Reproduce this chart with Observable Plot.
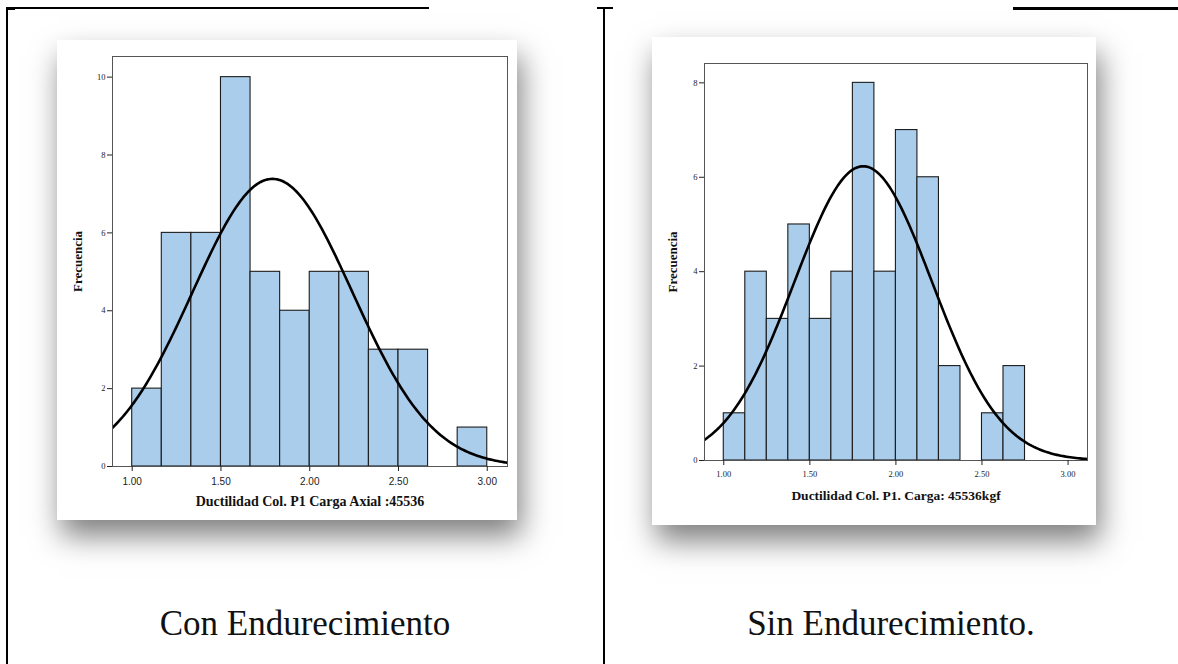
<!DOCTYPE html>
<html>
<head>
<meta charset="utf-8">
<script src="https://cdn.jsdelivr.net/npm/d3@7"></script>
<script src="https://cdn.jsdelivr.net/npm/@observablehq/plot@0.6"></script>
<style>
  html, body { margin: 0; padding: 0; background: #fff; }
  body { width: 1178px; height: 664px; position: relative; overflow: hidden; }
  .line { position: absolute; background: #000; }
  .card { position: absolute; background: #fff; box-shadow: 4px 16px 28px rgba(0,0,0,0.5); }
  .card svg { display: block; }
  .caption { position: absolute; font-family: "Liberation Serif", "DejaVu Serif", serif; font-size: 35px; color: #111; text-align: center; white-space: nowrap; transform: translateX(-50%); }
</style>
</head>
<body>
<div class="line" style="left:6px;top:7px;width:423px;height:1.5px"></div>
<div class="line" style="left:6px;top:7px;width:9px;height:3px"></div>
<div class="line" style="left:6px;top:7px;width:1.5px;height:657px"></div>
<div class="line" style="left:597px;top:7px;width:16px;height:2px"></div>
<div class="line" style="left:603px;top:7px;width:1.5px;height:657px"></div>
<div class="line" style="left:1013px;top:7px;width:165px;height:2.5px"></div>

<div class="card" id="left" style="left:57px;top:40px;width:460px;height:480px"></div>
<div class="card" id="right" style="left:652px;top:37px;width:444px;height:488px"></div>

<div class="caption" id="capL" style="left:305px;top:604px"></div>
<div class="caption" id="capR" style="left:891px;top:604px"></div>

<script>
// ---- Data: left histogram (Con Endurecimiento) ----
const leftBinStart = 1.0;
const leftBinWidth = 1 / 6;
const leftCounts = [2, 6, 6, 10, 5, 4, 5, 5, 3, 3, 0, 1];
const leftMean = 1.79;
const leftSd = 0.45;
const leftXTicks = [1.0, 1.5, 2.0, 2.5, 3.0];
const leftYTicks = [0, 2, 4, 6, 8, 10];
const leftXLabel = "Ductilidad Col. P1 Carga Axial :45536";

// ---- Data: right histogram (Sin Endurecimiento) ----
const rightBinStart = 1.0;
const rightBinWidth = 0.125;
const rightCounts = [1, 4, 3, 5, 3, 4, 8, 4, 7, 6, 2, 0, 1, 2];
const rightMean = 1.81;
const rightSd = 0.40;
const rightXTicks = [1.0, 1.5, 2.0, 2.5, 3.0];
const rightYTicks = [0, 2, 4, 6, 8];
const rightXLabel = "Ductilidad Col. P1. Carga: 45536kgf";

const yLabel = "Frecuencia";
const captions = ["Con Endurecimiento", "Sin Endurecimiento."];

function makeBins(start, w, counts) {
  return counts.map((c, i) => ({x1: start + i * w, x2: start + (i + 1) * w, y: c}));
}
// Fitted normal curve (as drawn by SPSS): n * binWidth * pdf(x)
function normalCurve(mean, sd, n, w, domain) {
  const pts = [];
  const steps = 200;
  for (let i = 0; i <= steps; i++) {
    const x = domain[0] + (domain[1] - domain[0]) * i / steps;
    const z = (x - mean) / sd;
    pts.push({x, y: n * w * Math.exp(-0.5 * z * z) / (sd * Math.sqrt(2 * Math.PI))});
  }
  return pts;
}

function histogram(cfg) {
  const bins = makeBins(cfg.start, cfg.width, cfg.counts);
  const n = d3.sum(cfg.counts);
  const curve = normalCurve(cfg.mean, cfg.sd, n, cfg.width, cfg.xDomain);
  return Plot.plot({
    width: cfg.w, height: cfg.h,
    marginLeft: cfg.ml, marginRight: cfg.mr, marginTop: cfg.mt, marginBottom: cfg.mb,
    style: {fontFamily: "Liberation Serif, serif", fontSize: "9px", color: "#222", background: "#fff"},
    x: {domain: cfg.xDomain},
    y: {domain: cfg.yDomain},
    marks: [
      Plot.rectY(bins, {x1: "x1", x2: "x2", y: "y", fill: "#aacdec", stroke: "#1c1c1c", strokeWidth: 1.1}),
      Plot.line(curve, {x: "x", y: "y", stroke: "#000", strokeWidth: 2.6, clip: true, curve: "linear"}),
      Plot.frame({stroke: "#555", strokeWidth: 1}),
      Plot.axisY({ticks: cfg.yTicks, tickSize: 5, tickPadding: 2, fontSize: cfg.yFont, fontFamily: "Liberation Serif, serif", label: null, tickFormat: d3.format("d")}),
      Plot.axisX({ticks: cfg.xTicks, tickSize: 5, tickPadding: cfg.xPad, fontSize: cfg.xFont, fontFamily: cfg.xFamily, label: null, tickFormat: d3.format(".2f")}),
      Plot.text([cfg.xLabel], {frameAnchor: "bottom", lineAnchor: "middle", dy: cfg.xLabelDy, fontWeight: "bold", fontSize: cfg.xLabelFont, fontFamily: "Liberation Serif, serif", fill: "#111"}),
      Plot.text([yLabel], {frameAnchor: "left", textAnchor: "middle", lineAnchor: "middle", dx: cfg.yLabelDx, rotate: -90, fontWeight: "bold", fontSize: 13, fontFamily: "Liberation Serif, serif", fill: "#111"})
    ]
  });
}

document.getElementById("left").appendChild(histogram({
  start: leftBinStart, width: leftBinWidth, counts: leftCounts, mean: leftMean, sd: leftSd,
  xDomain: [0.889, 3.114], yDomain: [0, 10.53], xTicks: leftXTicks, yTicks: leftYTicks,
  xLabel: leftXLabel, w: 460, h: 480, ml: 55, mr: 10, mt: 16, mb: 54,
  xFont: 10, xFamily: "Liberation Sans, Arial, sans-serif", xPad: 6, yFont: 8.5,
  xLabelDy: 35, xLabelFont: 14, yLabelDx: -35
}));

document.getElementById("right").appendChild(histogram({
  start: rightBinStart, width: rightBinWidth, counts: rightCounts, mean: rightMean, sd: rightSd,
  xDomain: [0.888, 3.113], yDomain: [0, 8.41], xTicks: rightXTicks, yTicks: rightYTicks,
  xLabel: rightXLabel, w: 444, h: 488, ml: 52, mr: 9, mt: 26, mb: 65,
  xFont: 8.5, xFamily: "Liberation Serif, serif", xPad: 5, yFont: 8.5,
  xLabelDy: 35, xLabelFont: 13.5, yLabelDx: -32
}));

document.getElementById("capL").textContent = captions[0];
document.getElementById("capR").textContent = captions[1];
</script>
</body>
</html>
